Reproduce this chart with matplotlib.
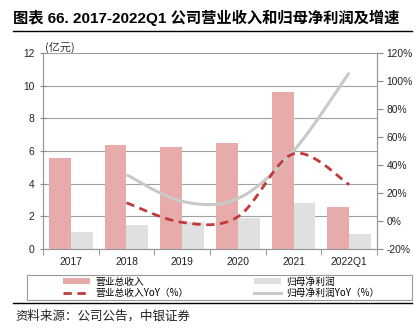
import numpy as np
import matplotlib
matplotlib.use("Agg")
import matplotlib.pyplot as plt
from matplotlib import font_manager
from matplotlib.lines import Line2D
from matplotlib.patches import Patch, Rectangle

# data (亿元 and YoY %)
years = ["2017", "2018", "2019", "2020", "2021", "2022Q1"]
revenue = [5.6, 6.35, 6.27, 6.47, 9.6, 2.57]
profit = [1.04, 1.45, 1.63, 1.92, 2.8, 0.9]
revenue_yoy = [13, -1, 3, 48, 26]      # from 2018 on
profit_yoy = [33, 14, 16, 50, 106]     # from 2018 on

RED_BAR = "#E8ABAB"
GRAY_BAR = "#E0E0E0"
RED_LINE = "#C0393B"
GRAY_LINE = "#C9C9C9"

installed = {f.name for f in font_manager.fontManager.ttflist}
if "Liberation Sans Narrow" in installed:
    NUM_FONT, NUM_SIZE = "Liberation Sans Narrow", 8.5
else:
    NUM_FONT, NUM_SIZE = "Liberation Sans", 7.4
TITLE_FONTS = [NUM_FONT, "Noto Sans CJK SC", "DejaVu Sans"]
CJK = ["Noto Sans CJK SC", "DejaVu Sans"]


def smooth(xs, ys, n=40):
    # Catmull-Rom through the points, like a spreadsheet "smoothed line"
    pts = np.column_stack([xs, ys]).astype(float)
    p = np.vstack([pts[0], pts, pts[-1]])
    out = []
    t = np.linspace(0, 1, n)[:, None]
    for i in range(1, len(p) - 2):
        p0, p1, p2, p3 = p[i - 1], p[i], p[i + 1], p[i + 2]
        c1 = p1 + (p2 - p0) / 6
        c2 = p2 - (p3 - p1) / 6
        seg = ((1 - t) ** 3) * p1 + 3 * ((1 - t) ** 2) * t * c1 + 3 * (1 - t) * t ** 2 * c2 + t ** 3 * p2
        out.append(seg)
    out = np.vstack(out)
    return out[:, 0], out[:, 1]


fig = plt.figure(figsize=(4.19, 3.28), dpi=100)
ax = fig.add_axes([0.1026, 0.2409, 0.7972, 0.5975])
ax2 = ax.twinx()

x = np.arange(len(years))
w = 0.39
ax.bar(x - w / 2, revenue, w, color=RED_BAR, zorder=2)
ax.bar(x + w / 2, profit, w, color=GRAY_BAR, zorder=2)

ax.set_ylim(0, 12)
ax.set_yticks(range(0, 13, 2))
ax.set_xlim(-0.5, len(years) - 0.5)
ax.set_xticks(x)
ax.set_xticklabels(years)
ax.set_xticks(np.arange(-0.5, len(years)), minor=True)
ax.tick_params(axis="x", which="major", length=0, pad=6,
               labelsize=NUM_SIZE, labelfontfamily=NUM_FONT, labelcolor="#222222")
ax.tick_params(axis="x", which="minor", length=4, color="#888888", direction="out")
ax.tick_params(axis="y", length=4, color="#888888", direction="inout", pad=4,
               labelsize=NUM_SIZE, labelfontfamily=NUM_FONT, labelcolor="#222222")
ax.yaxis.grid(True, color="#A0A0A0", linewidth=0.8, zorder=0)
ax.set_axisbelow(True)

xs = x[1:]
sx, sy = smooth(xs, profit_yoy)
ax2.plot(sx, sy, color=GRAY_LINE, linewidth=2.2, solid_capstyle="butt", zorder=3)
rx, ry = smooth(xs, revenue_yoy)
ax2.plot(rx, ry, color=RED_LINE, linewidth=2.0, linestyle=(0, (3, 2)), zorder=4)
ax2.set_ylim(-20, 120)
ax2.set_yticks(range(-20, 121, 20))
ax2.set_yticklabels([f"{v}%" for v in range(-20, 121, 20)])
ax2.tick_params(axis="y", length=4, color="#888888", direction="out", pad=3,
                labelsize=NUM_SIZE, labelfontfamily=NUM_FONT, labelcolor="#222222")

for a in (ax, ax2):
    a.spines["top"].set_visible(False)
    for side in ("left", "right", "bottom"):
        a.spines[side].set_color("#999999")
        a.spines[side].set_linewidth(0.8)

ax.text(0.005, 1.0, "(亿元)", transform=ax.transAxes, fontsize=8,
        family=CJK, style="italic", color="#333333", va="bottom", ha="left")

# title and rules
fig.text(13 / 419, 1 - 18 / 328, "图表 66. 2017-2022Q1 公司营业收入和归母净利润及增速",
         family=TITLE_FONTS, fontsize=11, fontweight="bold", va="center", ha="left")
fig.add_artist(Line2D([13 / 419, 412 / 419], [1 - 31 / 328] * 2, color="black", linewidth=1.0))
fig.add_artist(Line2D([13 / 419, 412 / 419], [1 - 303 / 328] * 2, color="black", linewidth=1.0))
fig.text(15 / 419, 1 - 316 / 328, "资料来源：公司公告，中银证券", family=CJK, style="italic",
         fontsize=9, va="center", ha="left", color="#222222")

# legend: frame plus two single-column legends
fig.add_artist(Rectangle((27 / 419, 1 - 300 / 328), 385 / 419, 25 / 328,
                         transform=fig.transFigure, fill=False,
                         edgecolor="#999999", linewidth=0.8))
leg_kw = dict(ncol=1, loc="center left", prop={"family": CJK, "size": 7},
              frameon=False, handlelength=2.8, handleheight=0.6,
              labelspacing=0.15, borderpad=0, borderaxespad=0, handletextpad=0.5)
fig.legend([Patch(facecolor=RED_BAR, edgecolor="none"),
            Line2D([], [], color=RED_LINE, linewidth=2.0, linestyle=(0, (3, 2)))],
           ["营业总收入", "营业总收入YoY（%）"],
           bbox_to_anchor=(63 / 419, 1 - 287.5 / 328), **leg_kw)
fig.legend([Patch(facecolor=GRAY_BAR, edgecolor="none"),
            Line2D([], [], color=GRAY_LINE, linewidth=2.2)],
           ["归母净利润", "归母净利润YoY（%）"],
           bbox_to_anchor=(254 / 419, 1 - 287.5 / 328), **leg_kw)

fig.savefig("out.png", dpi=100)
